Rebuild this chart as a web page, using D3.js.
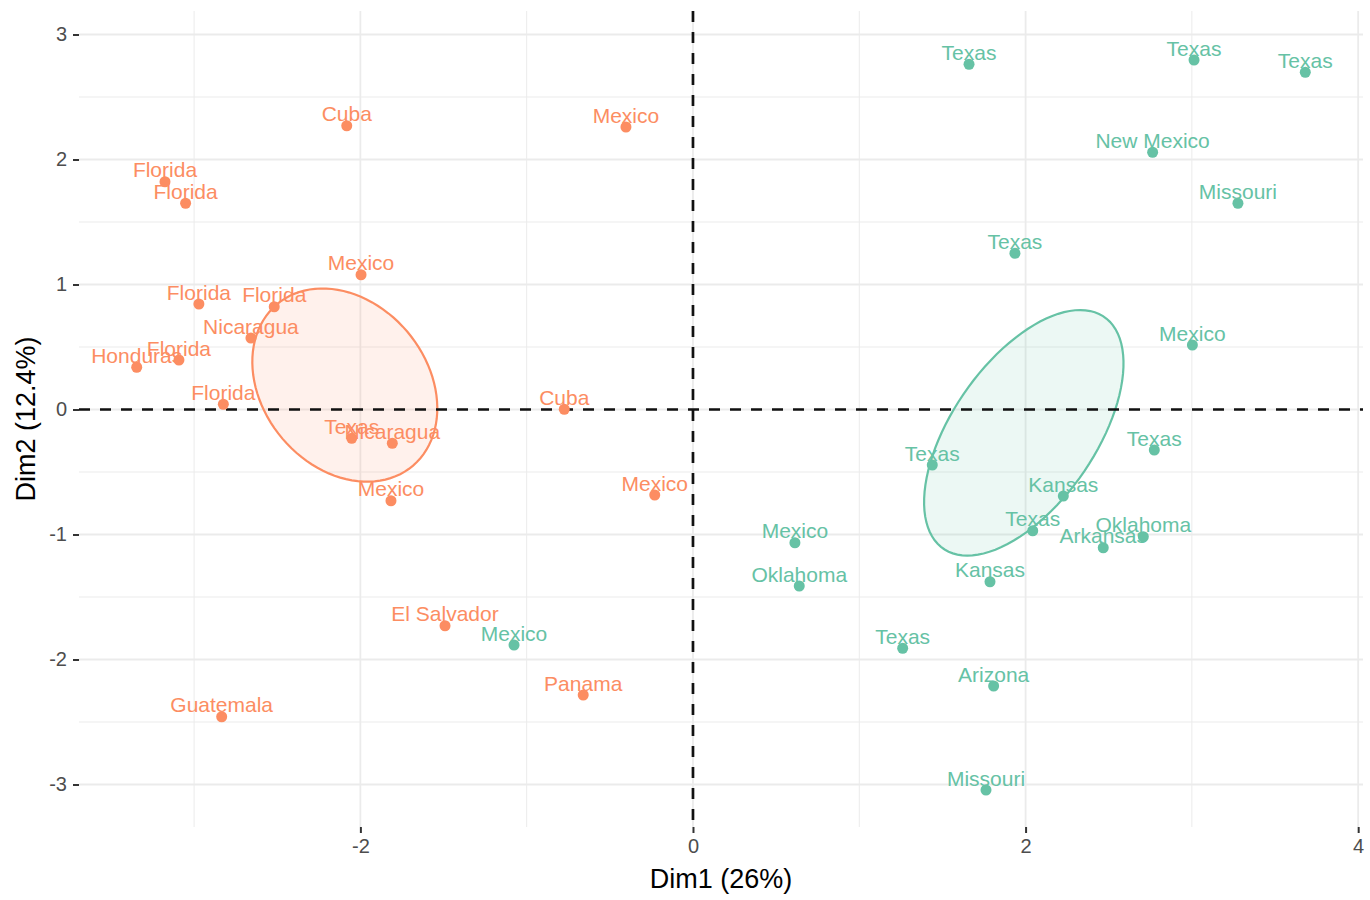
<!DOCTYPE html>
<html>
<head>
<meta charset="utf-8">
<script src="https://cdn.jsdelivr.net/npm/d3@7"></script>
<style>
  body { margin: 0; background: #fff; }
  svg { display: block; font-family: "Liberation Sans", Arial, Helvetica, sans-serif; }
</style>
</head>
<body>
<svg id="chart" width="1370" height="900"></svg>
<script>
// ---- data ----
const groupA_labels = ["Cuba","Florida","Florida","Mexico","Mexico","Florida","Florida","Nicaragua","Honduras","Florida","Florida","Cuba","Texas","Nicaragua","Mexico","Mexico","El Salvador","Panama","Guatemala"];
const groupA_x = [-2.082,-3.175,-3.051,-0.403,-1.996,-2.971,-2.518,-2.658,-3.345,-3.091,-2.824,-0.774,-2.052,-1.808,-1.816,-0.230,-1.491,-0.660,-2.834];
const groupA_y = [2.270,1.822,1.650,2.260,1.078,0.844,0.822,0.572,0.338,0.396,0.042,0.002,-0.230,-0.270,-0.730,-0.684,-1.730,-2.284,-2.458];

const groupB_labels = ["Texas","Texas","Texas","New Mexico","Missouri","Texas","Mexico","Texas","Texas","Kansas","Texas","Oklahoma","Arkansas","Kansas","Mexico","Oklahoma","Mexico","Texas","Arizona","Missouri"];
const groupB_x = [1.660,3.013,3.682,2.764,3.277,1.936,3.003,2.774,1.439,2.227,2.043,2.708,2.467,1.786,0.613,0.639,-1.076,1.261,1.808,1.762];
const groupB_y = [2.762,2.796,2.698,2.058,1.650,1.250,0.516,-0.324,-0.444,-0.692,-0.970,-1.018,-1.106,-1.378,-1.066,-1.412,-1.884,-1.910,-2.212,-3.044];

const groupColors = ["#FC8D62", "#66C2A5"];
const xTicks = [-2, 0, 2, 4];
const yTicks = [-3, -2, -1, 0, 1, 2, 3];
const xMinor = [-3, -1, 1, 3];
const yMinor = [-2.5, -1.5, -0.5, 0.5, 1.5, 2.5];
const xTitle = "Dim1 (26%)";
const yTitle = "Dim2 (12.4%)";

// ---- layout ----
const panel = { left: 79, right: 1363, top: 11, bottom: 827 };
const svg = d3.select("#chart");
const x = d3.scaleLinear().domain([-3.692, 4.029]).range([panel.left, panel.right]);
const y = d3.scaleLinear().domain([-3.34, 3.188]).range([panel.bottom, panel.top]);

const groups = [
  { labels: groupA_labels, xs: groupA_x, ys: groupA_y, color: groupColors[0] },
  { labels: groupB_labels, xs: groupB_x, ys: groupB_y, color: groupColors[1] }
];

// grid
const grid = svg.append("g");
grid.selectAll(".xminor").data(xMinor).join("line")
  .attr("x1", d => x(d)).attr("x2", d => x(d)).attr("y1", panel.top).attr("y2", panel.bottom)
  .attr("stroke", "#ebebeb").attr("stroke-width", 1);
grid.selectAll(".yminor").data(yMinor).join("line")
  .attr("y1", d => y(d)).attr("y2", d => y(d)).attr("x1", panel.left).attr("x2", panel.right)
  .attr("stroke", "#ebebeb").attr("stroke-width", 1);
grid.selectAll(".xmajor").data(xTicks).join("line")
  .attr("x1", d => x(d)).attr("x2", d => x(d)).attr("y1", panel.top).attr("y2", panel.bottom)
  .attr("stroke", "#ebebeb").attr("stroke-width", 1.8);
grid.selectAll(".ymajor").data(yTicks).join("line")
  .attr("y1", d => y(d)).attr("y2", d => y(d)).attr("x1", panel.left).attr("x2", panel.right)
  .attr("stroke", "#ebebeb").attr("stroke-width", 1.8);

// axes
const xAxis = d3.axisBottom(x).tickValues(xTicks).tickSize(6).tickPadding(6).tickFormat(d3.format("d"));
const yAxis = d3.axisLeft(y).tickValues(yTicks).tickSize(6).tickPadding(6).tickFormat(d3.format("d"));
const gx = svg.append("g").attr("transform", `translate(0,${panel.bottom})`).call(xAxis);
const gy = svg.append("g").attr("transform", `translate(${panel.left},0)`).call(yAxis);
[gx, gy].forEach(g => {
  g.select(".domain").remove();
  g.selectAll(".tick line").attr("stroke", "#333").attr("stroke-width", 2);
  g.selectAll(".tick text").attr("fill", "#4d4d4d").attr("font-size", 20)
    .attr("font-family", "'Liberation Sans', Arial, sans-serif")
    .text(d => d < 0 ? "-" + Math.abs(d) : String(d));
});
gx.selectAll(".tick text").attr("dy", "0.71em");

// ellipses (95% confidence ellipses of the group means)
const tChi = Math.sqrt(5.991464547);
groups.forEach(gr => {
  const n = gr.xs.length;
  const mx = d3.mean(gr.xs), my = d3.mean(gr.ys);
  let sxx = 0, syy = 0, sxy = 0;
  for (let i = 0; i < n; i++) {
    sxx += (gr.xs[i] - mx) ** 2; syy += (gr.ys[i] - my) ** 2; sxy += (gr.xs[i] - mx) * (gr.ys[i] - my);
  }
  sxx /= (n - 1) * n; syy /= (n - 1) * n; sxy /= (n - 1) * n;
  const tr = sxx + syy, det = sxx * syy - sxy * sxy;
  const l1 = tr / 2 + Math.sqrt(tr * tr / 4 - det), l2 = tr / 2 - Math.sqrt(tr * tr / 4 - det);
  const ang = Math.atan2(l1 - sxx, sxy);
  const pts = d3.range(0, 101).map(k => {
    const th = 2 * Math.PI * k / 100;
    const a = tChi * Math.sqrt(l1) * Math.cos(th), b = tChi * Math.sqrt(l2) * Math.sin(th);
    return [x(mx + a * Math.cos(ang) - b * Math.sin(ang)), y(my + a * Math.sin(ang) + b * Math.cos(ang))];
  });
  svg.append("path").attr("d", d3.line()(pts) + "Z")
    .attr("fill", gr.color).attr("fill-opacity", 0.12)
    .attr("stroke", gr.color).attr("stroke-width", 2.2);
});

// reference lines
svg.append("line").attr("x1", panel.left).attr("x2", panel.right).attr("y1", y(0)).attr("y2", y(0))
  .attr("stroke", "#111").attr("stroke-width", 2.7).attr("stroke-dasharray", "11,10");
svg.append("line").attr("x1", x(0)).attr("x2", x(0)).attr("y1", panel.top).attr("y2", panel.bottom)
  .attr("stroke", "#111").attr("stroke-width", 2.7).attr("stroke-dasharray", "11,10");

// points and labels
groups.forEach(gr => {
  const data = gr.labels.map((l, i) => ({ l, x: gr.xs[i], y: gr.ys[i] }));
  svg.append("g").selectAll("circle").data(data).join("circle")
    .attr("cx", d => x(d.x)).attr("cy", d => y(d.y)).attr("r", 5.5).attr("fill", gr.color);
  svg.append("g").selectAll("text").data(data).join("text")
    .attr("x", d => x(d.x)).attr("y", d => y(d.y) - 4.5)
    .attr("text-anchor", "middle").attr("font-size", 21).attr("fill", gr.color)
    .text(d => d.l);
});

// titles
svg.append("text").attr("x", (panel.left + panel.right) / 2).attr("y", 888)
  .attr("text-anchor", "middle").attr("font-size", 27).attr("fill", "#000").text(xTitle);
svg.append("text").attr("transform", `translate(35,${(panel.top + panel.bottom) / 2}) rotate(-90)`)
  .attr("text-anchor", "middle").attr("font-size", 27).attr("fill", "#000").text(yTitle);
</script>
</body>
</html>
